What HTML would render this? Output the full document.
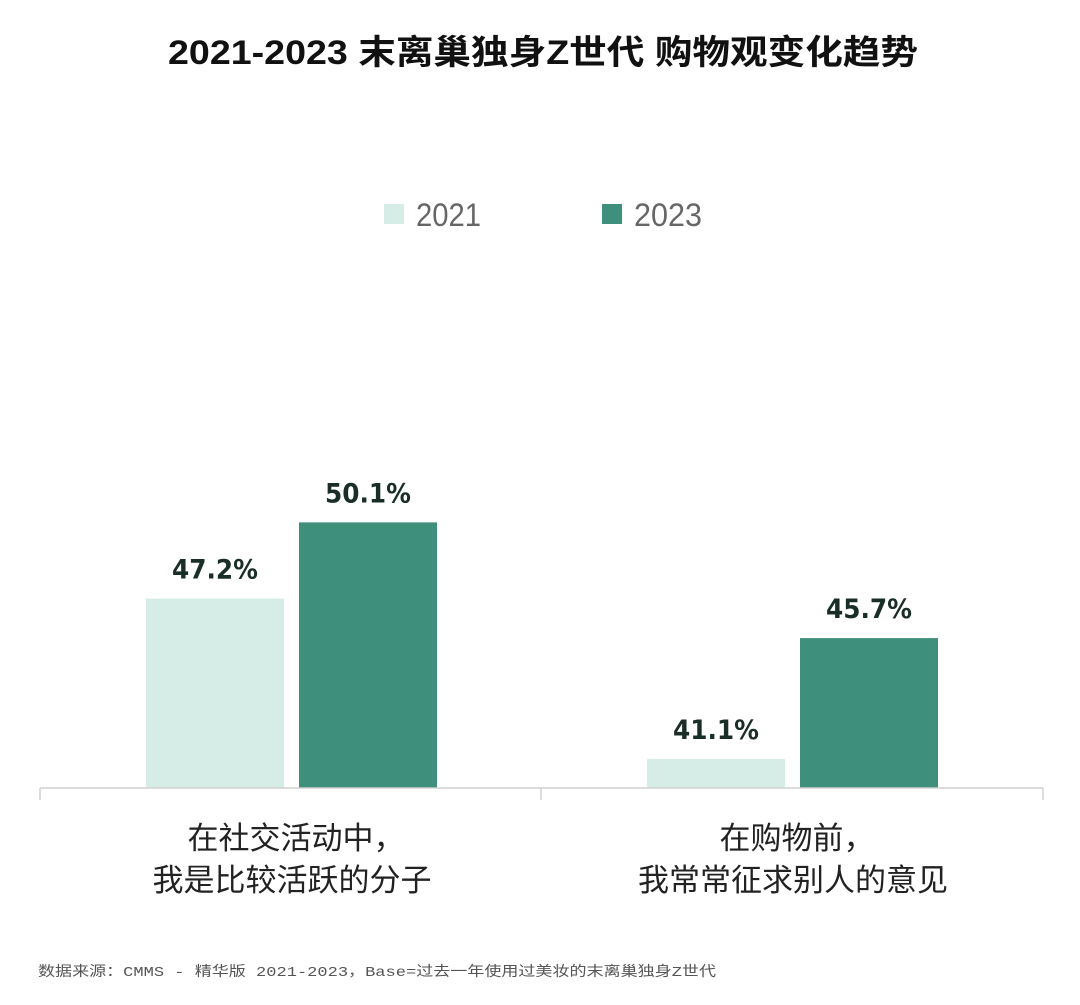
<!DOCTYPE html>
<html><head><meta charset="utf-8"><style>
html,body{margin:0;padding:0;background:#fff;}
svg{display:block;}
</style></head><body>
<svg width="1080" height="1005" viewBox="0 0 1080 1005" xmlns="http://www.w3.org/2000/svg">
<text x="543" y="64" text-anchor="middle" font-family="Liberation Sans, Noto Sans CJK SC, sans-serif" font-size="34" font-weight="bold" fill="#111" textLength="750" lengthAdjust="spacingAndGlyphs">2021-2023  末离巢独身Z世代  购物观变化趋势</text>
<g font-family="Liberation Sans, Noto Sans CJK SC, sans-serif" font-size="32" fill="#666">
<rect x="384" y="204" width="20" height="20" fill="#d6ece6"/>
<text x="416" y="226" textLength="65" lengthAdjust="spacingAndGlyphs">2021</text>
<rect x="602" y="204" width="20" height="20" fill="#3f8f7d"/>
<text x="634" y="226" textLength="68" lengthAdjust="spacingAndGlyphs">2023</text>
</g>
<g id="bars"></g>
<g stroke="#d0d0d0" stroke-width="1.5">
<line x1="40" y1="788" x2="1043" y2="788"/>
<line x1="40" y1="788" x2="40" y2="800"/>
<line x1="541" y1="788" x2="541" y2="800"/>
<line x1="1043" y1="788" x2="1043" y2="800"/>
</g>
<g font-family="Liberation Sans, Noto Sans CJK SC, sans-serif" font-size="31" fill="#222" text-anchor="middle">
<text x="296" y="849">在社交活动中，</text>
<text x="292" y="891">我是比较活跃的分子</text>
<text x="797" y="849">在购物前，</text>
<text x="793" y="891">我常常征求别人的意见</text>
</g>
<text x="38" y="976" font-family="Liberation Mono, Noto Sans CJK SC, monospace" font-size="14" fill="#555" textLength="678" lengthAdjust="spacingAndGlyphs">数据来源：CMMS - 精华版 2021-2023，Base=过去一年使用过美妆的末离巢独身Z世代</text>
</svg>
<script>
const categories = ["在社交活动中，我是比较活跃的分子", "在购物前，我常常征求别人的意见"];
const series2021 = [47.2, 41.1];
const series2023 = [50.1, 45.7];
const valueLabels2021 = ["47.2%", "41.1%"];
const valueLabels2023 = ["50.1%", "45.7%"];

(function(){
  const NS = "http://www.w3.org/2000/svg";
  const g = document.getElementById('bars');
  const base = 788, yMin = 40, pxPer = 26.3;
  const y = v => base - (v - yMin) * pxPer;
  const groupX = i => 146 + i * 501;
  const barW = 138, gap = 15;
  const sets = [
    {vals: series2021, color: "#d6ece6", key: "2021"},
    {vals: series2023, color: "#3f8f7d", key: "2023"}
  ];
  categories.forEach((c, i) => {
    sets.forEach((s, j) => {
      const x = groupX(i) + j * (barW + gap);
      const top = y(s.vals[i]);
      const r = document.createElementNS(NS, 'rect');
      r.setAttribute('x', x); r.setAttribute('y', top);
      r.setAttribute('width', barW); r.setAttribute('height', base - top);
      r.setAttribute('fill', s.color);
      
      
      g.appendChild(r);
      const t = document.createElementNS(NS, 'text');
      t.setAttribute('x', x + barW / 2); t.setAttribute('y', top - 20);
      t.setAttribute('text-anchor', 'middle');
      t.setAttribute('font-family', 'DejaVu Sans, Liberation Sans, sans-serif');
      t.setAttribute('font-size', '27'); t.setAttribute('font-weight', 'bold');
      t.setAttribute('fill', '#1a2e28');
      t.setAttribute('textLength', '86');
      t.setAttribute('lengthAdjust', 'spacingAndGlyphs');
      t.textContent = String(s.vals[i]) + '%';
      
      
      g.appendChild(t);
    });
  });
})();
</script>
</body></html>
